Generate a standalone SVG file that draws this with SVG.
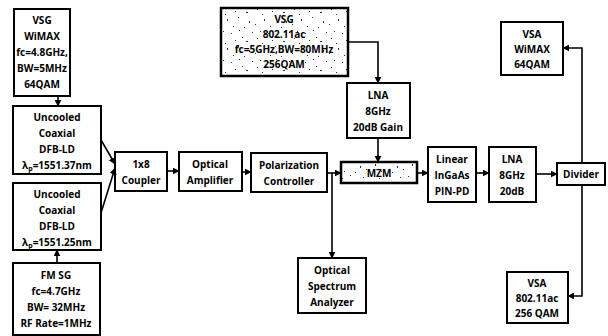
<svg xmlns="http://www.w3.org/2000/svg" width="608" height="336" viewBox="0 0 608 336">
<defs>
<marker id="ah" viewBox="0 0 10 10" refX="9" refY="5" markerWidth="7" markerHeight="7" markerUnits="userSpaceOnUse" orient="auto">
<path d="M0,0 L10,5 L0,10 z" fill="#000"/>
</marker>
<pattern id="noise" width="37" height="29" patternUnits="userSpaceOnUse">
<rect width="37" height="29" fill="#fff"/>
<g fill="#333">
<rect x="1" y="2" width="1" height="1"/><rect x="5" y="19" width="1" height="2"/><rect x="9" y="4" width="1" height="1"/>
<rect x="24" y="12" width="2" height="1"/><rect x="30" y="3" width="1" height="1"/><rect x="33" y="24" width="1" height="1"/>
<rect x="3" y="14" width="1" height="1"/><rect x="17" y="1" width="1" height="1"/><rect x="16" y="17" width="1" height="1"/>
<rect x="11" y="26" width="1" height="1"/><rect x="20" y="8" width="1" height="1"/><rect x="35" y="9" width="1" height="1"/>
<rect x="27" y="21" width="1" height="2"/><rect x="13" y="11" width="1" height="1"/><rect x="22" y="27" width="1" height="1"/>
</g>
</pattern>
<style>
.b{fill:#fff;stroke:#000;stroke-width:2}
.n{fill:url(#noise);stroke:#000;stroke-width:2.5}
.t{font-family:"Open Sans","Liberation Sans",sans-serif;font-weight:bold;font-size:10px;text-anchor:middle;fill:#000}
.c{fill:none;stroke:#000;stroke-width:1.6;marker-end:url(#ah)}
</style>
</defs>
<g id="vsg-wimax"><rect class="b" x="14" y="9" width="56" height="87"/>
<text class="t" x="42" y="24">VSG</text><text class="t" x="42" y="40">WiMAX</text><text class="t" x="42" y="56">fc=4.8GHz,</text><text class="t" x="42" y="72">BW=5MHz</text><text class="t" x="42" y="88">64QAM</text></g>
<g id="dfb1"><rect class="b" x="13" y="106" width="88" height="68"/>
<text class="t" x="57" y="121">Uncooled</text><text class="t" x="57" y="137">Coaxial</text><text class="t" x="57" y="153">DFB-LD</text><text class="t" x="57" y="169">λ<tspan font-size="7" dy="2">p</tspan><tspan dy="-2">=1551.37nm</tspan></text></g>
<g id="dfb2"><rect class="b" x="13" y="183" width="88" height="67"/>
<text class="t" x="57" y="198">Uncooled</text><text class="t" x="57" y="214">Coaxial</text><text class="t" x="57" y="230">DFB-LD</text><text class="t" x="57" y="246">λ<tspan font-size="7" dy="2">p</tspan><tspan dy="-2">=1551.25nm</tspan></text></g>
<g id="fmsg"><rect class="b" x="13" y="263" width="87" height="72"/>
<text class="t" x="56" y="279">FM SG</text><text class="t" x="56" y="295">fc=4.7GHz</text><text class="t" x="56" y="311">BW= 32MHz</text><text class="t" x="56" y="327">RF Rate=1MHz</text></g>
<g id="coupler"><rect class="b" x="115" y="152" width="52" height="39"/>
<text class="t" x="141" y="168">1x8</text><text class="t" x="141" y="184">Coupler</text></g>
<g id="optamp"><rect class="b" x="179" y="152" width="63" height="39"/>
<text class="t" x="210" y="168">Optical</text><text class="t" x="210" y="184">Amplifier</text></g>
<g id="polctrl"><rect class="b" x="251" y="153" width="76" height="39"/>
<text class="t" x="289" y="169">Polarization</text><text class="t" x="289" y="185">Controller</text></g>
<g id="vsg-80211ac"><rect class="n" x="221" y="8" width="127" height="68"/>
<text class="t" x="284" y="23">VSG</text><text class="t" x="284" y="38">802.11ac</text><text class="t" x="284" y="53">fc=5GHz,BW=80MHz</text><text class="t" x="284" y="68">256QAM</text></g>
<g id="lna1"><rect class="b" x="347" y="83" width="63" height="55"/>
<text class="t" x="378" y="99">LNA</text><text class="t" x="378" y="115">8GHz</text><text class="t" x="378" y="131">20dB Gain</text></g>
<g id="mzm"><rect class="n" x="341" y="162" width="76" height="21"/>
<text class="t" x="379" y="177">MZM</text></g>
<g id="osa"><rect class="b" x="298" y="258" width="68" height="55"/>
<text class="t" x="332" y="274">Optical</text><text class="t" x="332" y="290">Spectrum</text><text class="t" x="332" y="306">Analyzer</text></g>
<g id="pinpd"><rect class="b" x="428" y="147" width="48" height="55"/>
<text class="t" x="452" y="163">Linear</text><text class="t" x="452" y="179">InGaAs</text><text class="t" x="452" y="195">PIN-PD</text></g>
<g id="lna2"><rect class="b" x="489" y="147" width="47" height="55"/>
<text class="t" x="512" y="163">LNA</text><text class="t" x="512" y="179">8GHz</text><text class="t" x="512" y="195">20dB</text></g>
<g id="divider"><rect class="b" x="557" y="163" width="48" height="22"/>
<text class="t" x="581" y="178">Divider</text></g>
<g id="vsa-wimax"><rect class="b" x="501" y="22" width="62" height="53"/>
<text class="t" x="532" y="38">VSA</text><text class="t" x="532" y="53">WiMAX</text><text class="t" x="532" y="68">64QAM</text></g>
<g id="vsa-80211ac"><rect class="b" x="507" y="272" width="61" height="51"/>
<text class="t" x="537" y="287">VSA</text><text class="t" x="537" y="302">802.11ac</text><text class="t" x="537" y="317">256 QAM</text></g>
<g id="connectors">
<path class="c" d="M58,96 L58,106"/>
<path class="c" d="M101,140 L115,164"/>
<path class="c" d="M101,213 L115,168"/>
<path class="c" d="M57,263 L57,250"/>
<path class="c" d="M167,171 L179,171"/>
<path class="c" d="M242,172 L251,172"/>
<path class="c" d="M327,173 L341,173"/>
<path class="c" d="M332,173 L332,258"/>
<path class="c" d="M348,42 L378,42 L378,83"/>
<path class="c" d="M378,138 L378,162"/>
<path class="c" d="M417,173 L428,173"/>
<path class="c" d="M476,173 L489,173"/>
<path class="c" d="M536,174 L557,174"/>
<path class="c" d="M582,163 L582,48 L563,48"/>
<path class="c" d="M582,185 L582,296 L568,296"/>
</g>
</svg>
